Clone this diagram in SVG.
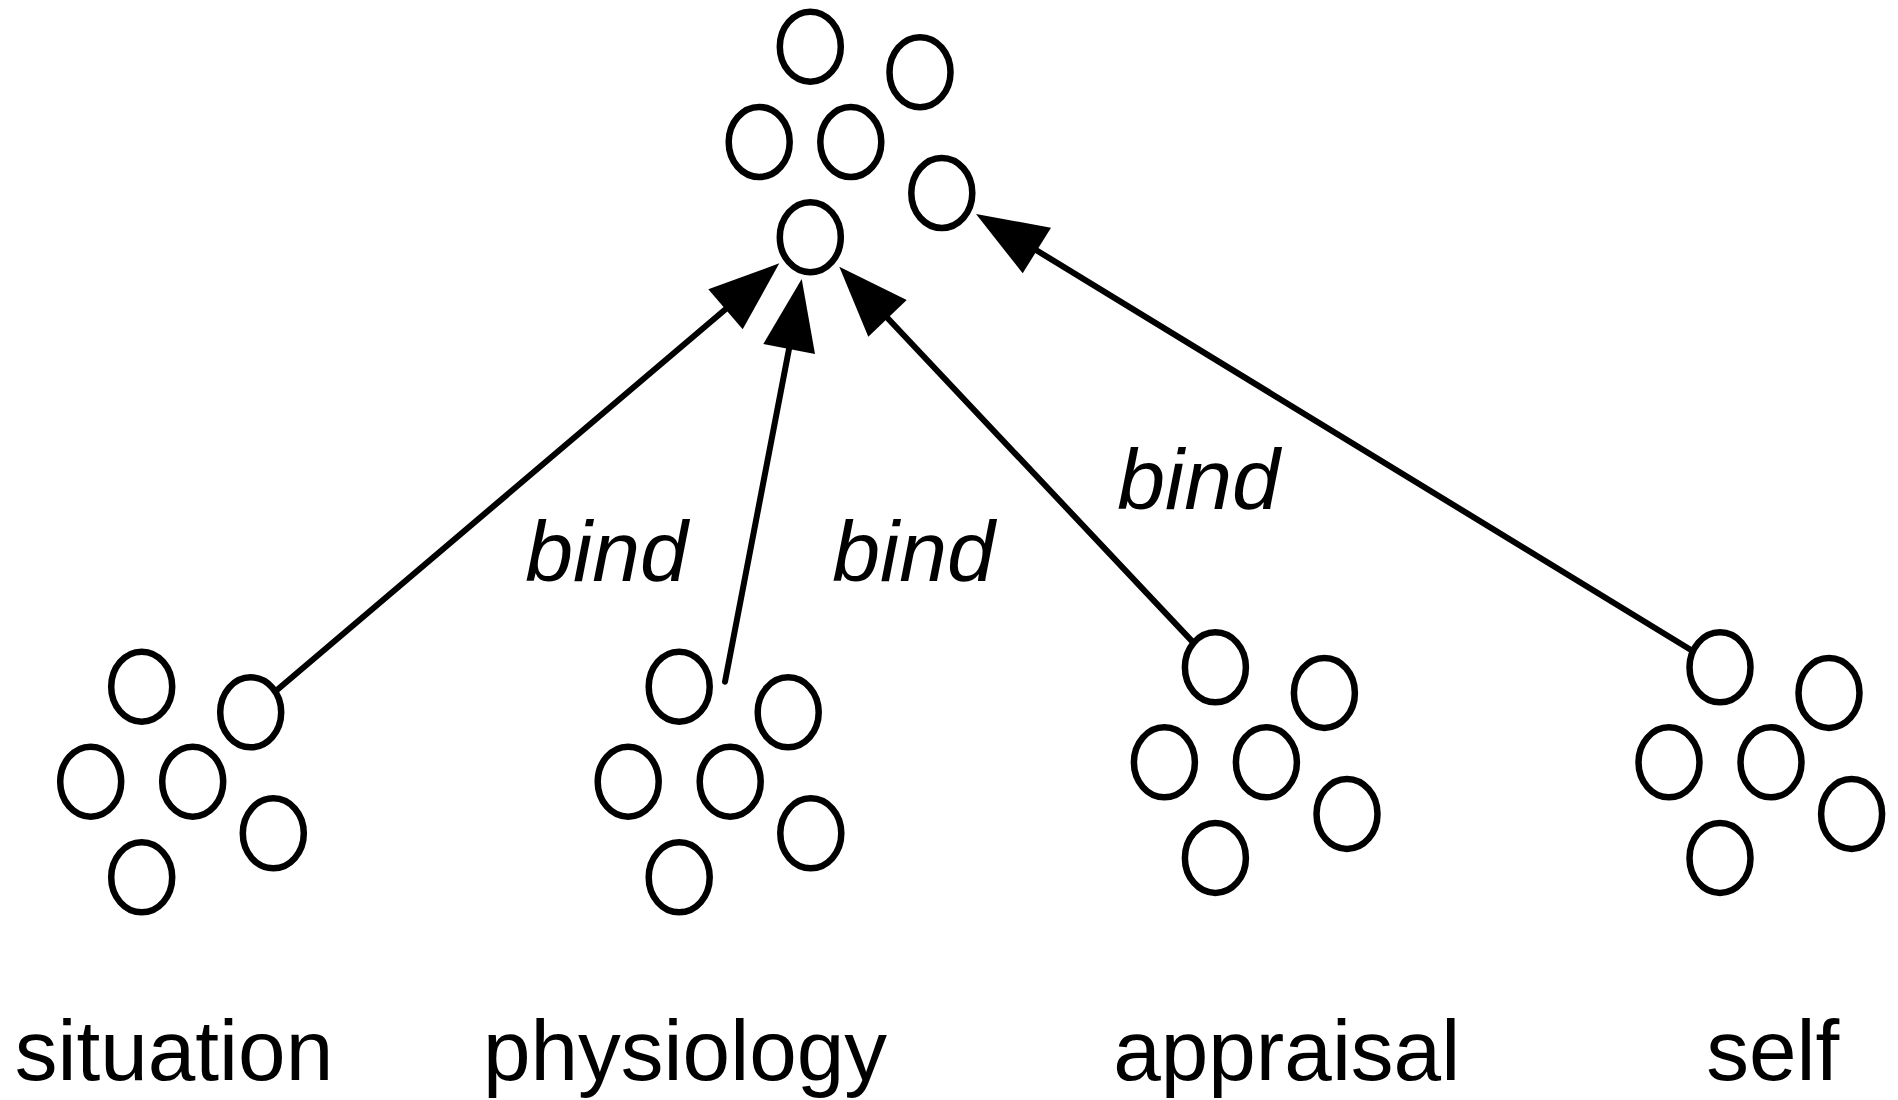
<svg xmlns="http://www.w3.org/2000/svg" xmlns:xlink="http://www.w3.org/1999/xlink" width="1898" height="1100" viewBox="0 0 1898 1100">
<style>
.n{fill:none;stroke:#000;stroke-width:6.5}
.e{stroke:#000;stroke-width:6;stroke-linecap:round;fill:none}
.h{fill:#000;stroke:none}
.lbl{font-family:"Liberation Sans",Arial,sans-serif;font-size:85.5px;fill:#000;text-anchor:middle}
.bind{font-family:"Liberation Sans",Arial,sans-serif;font-size:86px;font-style:italic;fill:#000;text-anchor:middle}
</style>
<defs>
<g id="cluster">
<ellipse class="n" cx="0" cy="0" rx="30.5" ry="35"/>
<ellipse class="n" cx="109" cy="25.6" rx="30.5" ry="35"/>
<ellipse class="n" cx="-51" cy="95" rx="30.5" ry="35"/>
<ellipse class="n" cx="51" cy="95" rx="30.5" ry="35"/>
<ellipse class="n" cx="131.6" cy="146.6" rx="30.5" ry="35"/>
<ellipse class="n" cx="0" cy="190.6" rx="30.5" ry="35"/>
</g>
</defs>
<rect width="1898" height="1100" fill="#fff"/>
<g id="top">
<ellipse class="n" cx="810.3" cy="46.7" rx="30.5" ry="35"/>
<ellipse class="n" cx="920" cy="72.2" rx="30.5" ry="35"/>
<ellipse class="n" cx="759.2" cy="142" rx="30.5" ry="35"/>
<ellipse class="n" cx="850.8" cy="142" rx="30.5" ry="35"/>
<ellipse class="n" cx="941.8" cy="193" rx="30.5" ry="35"/>
<ellipse class="n" cx="810.3" cy="237.2" rx="30.5" ry="35"/>
</g>
<g id="situation">
<use xlink:href="#cluster" transform="translate(141.7,686.7)"/>
<text class="lbl" x="174" y="1080">situation</text>
</g>
<g id="physiology">
<use xlink:href="#cluster" transform="translate(679.2,686.7)"/>
<text class="lbl" x="685" y="1080">physiology</text>
</g>
<g id="appraisal">
<use xlink:href="#cluster" transform="translate(1215.4,667.3)"/>
<text class="lbl" x="1286.7" y="1080">appraisal</text>
</g>
<g id="self">
<use xlink:href="#cluster" transform="translate(1720,667.3)"/>
<text class="lbl" x="1772.7" y="1080">self</text>
</g>
<g id="connectors">
<line class="e" x1="277" y1="690" x2="725.5" y2="309.3"/>
<polygon class="h" points="779.3,263.3 708.3,289.3 742.7,329.3"/>
<line class="e" x1="725" y1="681.7" x2="789" y2="349"/>
<polygon class="h" points="801.7,279 763.3,344 815,354"/>
<line class="e" x1="1192.4" y1="641.6" x2="887.5" y2="318"/>
<polygon class="h" points="839.3,266.7 868.3,336.7 906.7,300"/>
<line class="e" x1="1691" y1="650" x2="1036.8" y2="250.5"/>
<polygon class="h" points="976,214 1022.7,273.3 1051,227.7"/>
<text class="bind" x="606.5" y="581">bind</text>
<text class="bind" x="913.5" y="581">bind</text>
<text class="bind" x="1198.5" y="509">bind</text>
</g>
</svg>
